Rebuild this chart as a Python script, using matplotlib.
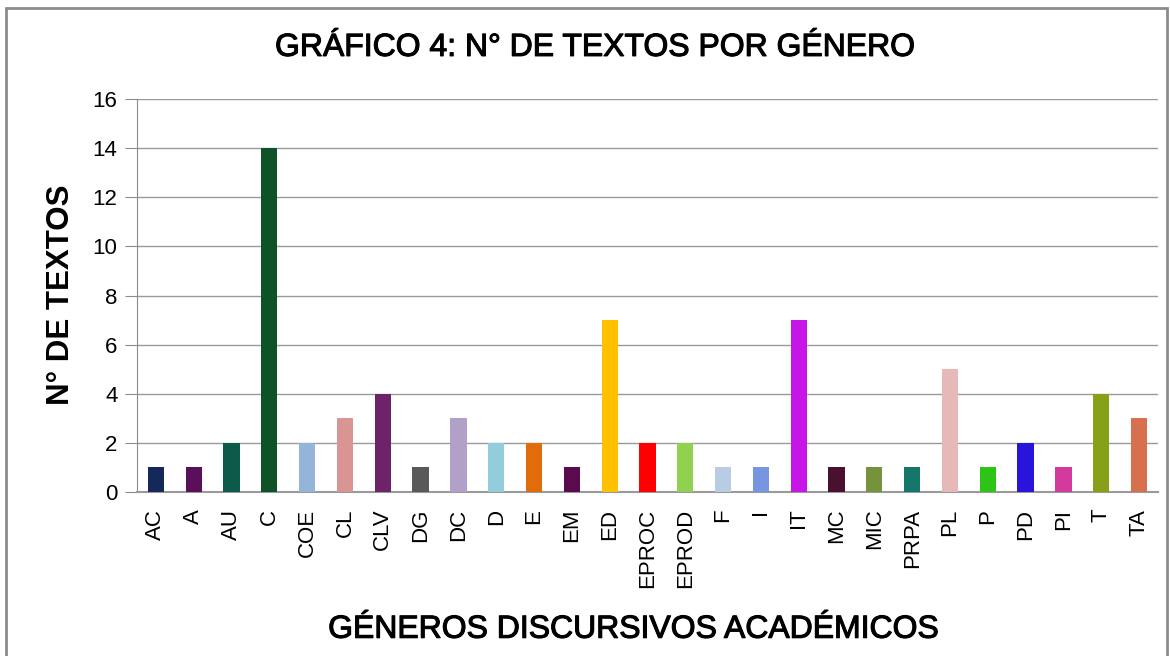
import matplotlib
matplotlib.use("Agg")
from matplotlib import pyplot as plt
from matplotlib.patches import Rectangle
import matplotlib.patheffects as pe
import numpy as np

plt.rcParams['font.family'] = ['Liberation Sans', 'DejaVu Sans']

generos = ["AC", "A", "AU", "C", "COE", "CL", "CLV", "DG", "DC", "D", "E", "EM",
           "ED", "EPROC", "EPROD", "F", "I", "IT", "MC", "MIC", "PRPA", "PL", "P",
           "PD", "PI", "T", "TA"]
textos = [1, 1, 2, 14, 2, 3, 4, 1, 3, 2, 2, 1, 7, 2, 2, 1, 1, 7, 1, 1, 1, 5, 1, 2, 1, 4, 3]
colores = ["#14285a", "#5a0f5a", "#0b5a4a", "#0f5228", "#95b4d9", "#d99594",
           "#6e2268", "#595959", "#b1a0c7", "#92cddc", "#e36c0a", "#5a0a4f",
           "#ffc000", "#ff0000", "#92d050", "#b8cce4", "#7697e0", "#c715e8",
           "#4a1030", "#76923c", "#17766a", "#e6b9b8", "#2ec417", "#2a14dc",
           "#d43a9c", "#86a018", "#d6704f"]

fig = plt.figure(figsize=(11.7, 6.56), dpi=100)
ax = fig.add_axes([0.1171, 0.25, 0.8726, 0.599])

x = np.arange(len(generos))
ax.bar(x, textos, width=0.43, color=colores, zorder=3)

ax.set_xlim(-0.5, len(generos) - 0.5)
ax.set_ylim(0, 16)
ax.set_yticks(range(0, 17, 2))
ax.set_xticks(x)
ax.set_xticklabels(generos, rotation=90, fontsize=16)
ax.tick_params(axis='y', labelsize=16, length=9, color='#8c8c8c', pad=5)
ax.tick_params(axis='x', length=0, pad=12)
ax.yaxis.grid(True, color='#9a9a9a', linewidth=1, zorder=0)

for s in ['top', 'right']:
    ax.spines[s].set_visible(False)
ax.spines['left'].set_color('#8c8c8c')
ax.spines['bottom'].set_color('#9a9a9a')
ax.spines['bottom'].set_linewidth(1.5)

# títulos un poco más gruesos que regular
grueso = [pe.withStroke(linewidth=0.8, foreground='black')]
fig.text(0.509, 0.927, "GRÁFICO 4: N° DE TEXTOS POR GÉNERO", ha='center', va='center',
         fontsize=23, path_effects=grueso)
fig.text(0.052, 0.55, "N° DE TEXTOS", rotation=90, ha='center', va='center',
         fontsize=22.5, fontweight='bold')
fig.text(0.542, 0.04, "GÉNEROS DISCURSIVOS ACADÉMICOS", ha='center', va='center',
         fontsize=23, path_effects=grueso)

fig.patches.append(Rectangle((6 / 1170, -0.05), 1161 / 1170, 1.05 - 8 / 656,
                             transform=fig.transFigure, fill=False,
                             edgecolor='#8c8c8c', linewidth=2))

fig.savefig("out.png", dpi=100)
